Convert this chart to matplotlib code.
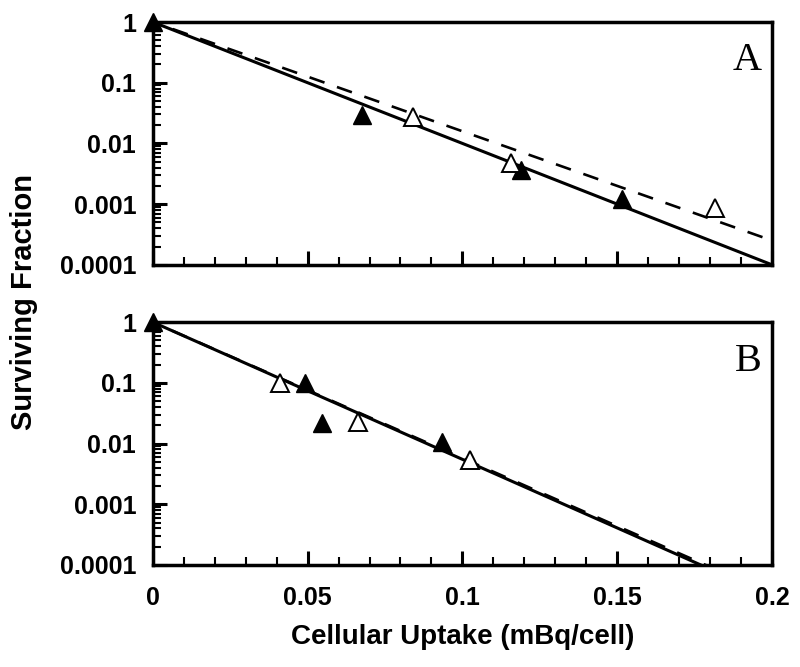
import numpy as np
import matplotlib.pyplot as plt
from matplotlib.ticker import FixedLocator, FuncFormatter, LogLocator, MultipleLocator

# Panel A data
a_filled_x = [0.0, 0.0675, 0.119, 0.1515]
a_filled_y = [1.0, 0.0295, 0.0036, 0.0012]
a_open_x = [0.084, 0.1157, 0.1816]
a_open_y = [0.027, 0.0048, 0.00087]
a_solid_slope = -20.0   # log10 decades per mBq/cell
a_dashed_slope = -18.0

# Panel B data
b_filled_x = [0.0, 0.049, 0.0546, 0.0934]
b_filled_y = [1.0, 0.10, 0.022, 0.0107]
b_open_x = [0.041, 0.0662, 0.1024]
b_open_y = [0.10, 0.0225, 0.0054]
b_solid_slope = -22.6
b_dashed_slope = -22.4

y_ticks = [1, 0.1, 0.01, 0.001, 0.0001]
y_tick_labels = ["1", "0.1", "0.01", "0.001", "0.0001"]

plt.rcParams["font.family"] = ["Liberation Sans", "DejaVu Sans"]
plt.rcParams["font.weight"] = "bold"

fig = plt.figure(figsize=(8, 6.67), dpi=100)
ax_a = fig.add_axes([0.191, 0.603, 0.774, 0.364])
ax_b = fig.add_axes([0.191, 0.153, 0.774, 0.364])


def draw_panel(ax, fx, fy, ox, oy, s_solid, s_dashed, letter, show_xlabels):
    xs = np.linspace(0, 0.2, 200)
    ax.plot(xs, 10 ** (s_dashed * xs), color="black", lw=1.9, ls=(3, (6, 5)), zorder=2)
    ax.plot(xs, 10 ** (s_solid * xs), color="black", lw=2.2, zorder=3)
    ax.plot(fx, fy, ls="none", marker="^", ms=13, color="black", zorder=4, clip_on=False)
    ax.plot(ox, oy, ls="none", marker="^", ms=13, mfc="white", mec="black",
            mew=1.4, zorder=4, clip_on=False)
    ax.set_yscale("log")
    ax.set_xlim(0, 0.2)
    ax.set_ylim(0.0001, 1)
    ax.yaxis.set_major_locator(FixedLocator(y_ticks))
    ax.yaxis.set_major_formatter(FuncFormatter(
        lambda v, p: y_tick_labels[y_ticks.index(v)] if v in y_ticks else ""))
    ax.yaxis.set_minor_locator(LogLocator(base=10, subs=np.arange(2, 10)))
    ax.yaxis.set_minor_formatter(FuncFormatter(lambda v, p: ""))
    ax.xaxis.set_major_locator(MultipleLocator(0.05))
    ax.xaxis.set_minor_locator(MultipleLocator(0.01))
    ax.xaxis.set_major_formatter(FuncFormatter(lambda v, p: f"{v:g}"))
    ax.tick_params(which="both", direction="in", width=1.5, labelsize=18)
    ax.tick_params(which="major", length=10, width=2.2)
    ax.tick_params(which="minor", length=6)
    ax.tick_params(axis="x", pad=15)
    ax.tick_params(axis="y", pad=12)
    if not show_xlabels:
        ax.tick_params(axis="x", labelbottom=False)
    for sp in ax.spines.values():
        sp.set_linewidth(2.5)
    ax.text(0.983, 0.84, letter, transform=ax.transAxes, ha="right", va="center",
            fontsize=29, fontweight="normal", family=["Liberation Serif", "DejaVu Serif"])


draw_panel(ax_a, a_filled_x, a_filled_y, a_open_x, a_open_y,
           a_solid_slope, a_dashed_slope, "A", False)
draw_panel(ax_b, b_filled_x, b_filled_y, b_open_x, b_open_y,
           b_solid_slope, b_dashed_slope, "B", True)

ax_b.set_xlabel("Cellular Uptake (mBq/cell)", fontsize=20, fontweight="bold", labelpad=10)
fig.text(0.03, 0.547, "Surviving Fraction", rotation=90, ha="center", va="center",
         fontsize=21, fontweight="bold")

fig.savefig("out.png", dpi=100)
